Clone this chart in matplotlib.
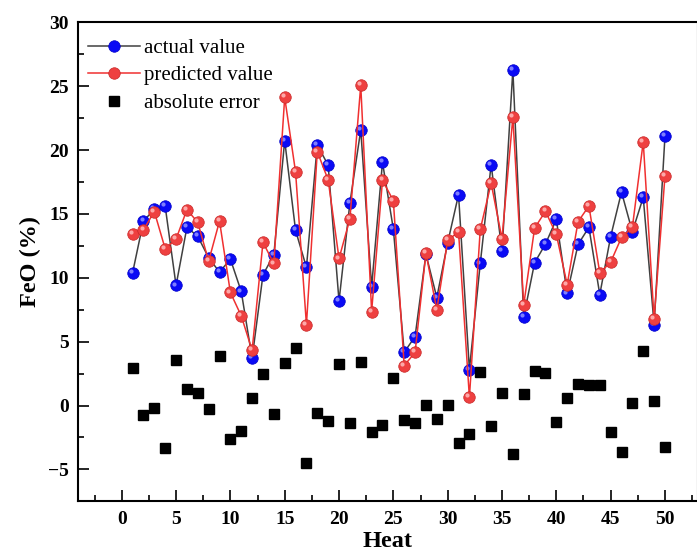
import numpy as np
import matplotlib
matplotlib.use("Agg")
import matplotlib.pyplot as plt
from matplotlib.transforms import offset_copy

plt.rcParams['font.family'] = ['Liberation Serif', 'DejaVu Serif']

# heat number
heat = np.arange(1, 51)

# FeO (%)
actual = [10.39, 14.44, 15.36, 15.59, 9.40, 13.95, 13.24, 11.57, 10.44, 11.46,
          8.93, 3.70, 10.23, 11.80, 20.74, 13.71, 10.81, 20.40, 18.81, 8.17,
          15.85, 21.58, 9.29, 19.04, 13.81, 4.17, 5.40, 11.85, 8.45, 12.74,
          16.51, 2.81, 11.12, 18.86, 12.09, 26.28, 6.94, 11.18, 12.64, 14.57,
          8.77, 12.61, 13.95, 8.69, 13.22, 16.71, 13.60, 16.30, 6.34, 21.08]

predicted = [13.40, 13.76, 15.18, 12.27, 13.03, 15.33, 14.34, 11.30, 14.44, 8.85,
             7.02, 4.32, 12.77, 11.12, 24.12, 18.28, 6.34, 19.88, 17.66, 11.51,
             14.60, 25.06, 7.36, 17.63, 16.04, 3.12, 4.17, 11.93, 7.49, 12.93,
             13.60, 0.64, 13.79, 17.40, 13.06, 22.57, 7.88, 13.89, 15.20, 13.40,
             9.47, 14.39, 15.62, 10.39, 11.22, 13.16, 13.95, 20.64, 6.78, 17.95]

error = [2.91, -0.75, -0.17, -3.36, 3.57, 1.29, 1.00, -0.31, 3.88, -2.63,
         -2.00, 0.61, 2.49, -0.67, 3.33, 4.53, -4.51, -0.62, -1.25, 3.22,
         -1.37, 3.38, -2.05, -1.51, 2.16, -1.12, -1.33, 0.01, -1.03, 0.04,
         -2.96, -2.25, 2.61, -1.61, 0.98, -3.80, 0.87, 2.67, 2.52, -1.29,
         0.61, 1.66, 1.61, 1.61, -2.08, -3.62, 0.22, 4.27, 0.38, -3.27]

fig = plt.figure(figsize=(6.97, 5.52), dpi=100)
ax = fig.add_axes([0.1123, 0.0918, 0.8885, 0.8678])

# lines with ball markers
ax.plot(heat, actual, '-', color='#404040', lw=1.1, marker='o', ms=8.3,
        mfc='#0a0af5', mec='#0000c8', mew=0.5, label='actual value', zorder=3)
ax.plot(heat, predicted, '-', color='#f03030', lw=1.1, marker='o', ms=8.3,
        mfc='#ee4040', mec='#c82828', mew=0.5, label='predicted value', zorder=4)

# little highlight to fake the shaded spheres
hl = offset_copy(ax.transData, fig=fig, x=-1.4, y=1.4, units='points')
ax.plot(heat, actual, 'o', ms=3.0, color='#8c8cff', mew=0, alpha=0.9,
        transform=hl, zorder=3.5)
ax.plot(heat, predicted, 'o', ms=3.0, color='#ffb4b4', mew=0, alpha=0.9,
        transform=hl, zorder=4.5)

ax.plot(heat, error, 's', color='black', ms=7.5, ls='none',
        label='absolute error', zorder=5)

ax.set_xlim(-4, 53)
ax.set_ylim(-7.5, 30)
ax.set_xticks(np.arange(0, 51, 5))
ax.set_xticks(np.arange(-2.5, 53, 2.5), minor=True)
ax.set_yticks(np.arange(-5, 31, 5))
ax.set_yticks(np.arange(-7.5, 30, 2.5), minor=True)

ax.tick_params(which='both', direction='in', top=False, right=False,
               width=1.2, labelsize=14, pad=7)
ax.tick_params(which='major', length=8)
ax.tick_params(which='minor', length=4.5)
for lab in ax.get_xticklabels() + ax.get_yticklabels():
    lab.set_fontweight('bold')
ax.set_yticklabels(['\u22125', '0', '5', '10', '15', '20', '25', '30'],
                   fontweight='bold')

for sp in ax.spines.values():
    sp.set_linewidth(1.5)

ax.set_xlabel('Heat', fontsize=17.5, fontweight='bold', labelpad=2)
ax.set_ylabel('FeO (%)', fontsize=17.5, fontweight='bold', labelpad=5)

leg = ax.legend(loc='upper left', bbox_to_anchor=(0.0, 0.986), frameon=False,
                fontsize=15, handlelength=2.5, handletextpad=0.2,
                labelspacing=0.38, borderaxespad=0.1, borderpad=0.35)

fig.savefig('out.png', dpi=100)
